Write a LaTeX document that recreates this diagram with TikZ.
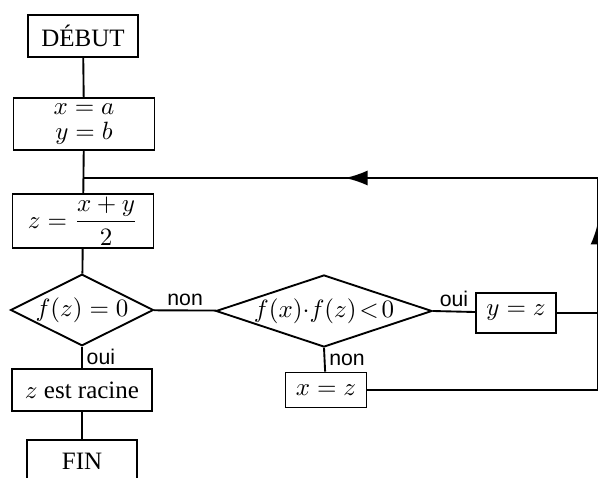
\documentclass[tikz,border=0pt]{standalone}
\usepackage{amsmath}
\usepackage{fontspec}
\setmainfont{Liberation Serif}
\newfontfamily\lblfont{Liberation Sans}
\usetikzlibrary{shapes.geometric,arrows.meta}

\tikzset{
  boite/.style={draw, line width=0.75pt, rectangle, inner sep=1pt, font=\fontsize{10}{12}\selectfont},
  test/.style={draw, line width=0.75pt, diamond, inner sep=0pt, font=\fontsize{10}{12}\selectfont},
  lbl/.style={font=\lblfont\fontsize{8.5}{10}\selectfont, inner sep=1.5pt},
  fil/.style={line width=0.75pt}
}

\begin{document}
\begin{tikzpicture}[x=0.4pt,y=-0.4pt]
			\useasboundingbox (0,0) rectangle (598,478);
			\clip (0,0) rectangle (598,478);
			% boxes
			\node[boite, minimum width=44pt, minimum height=16.8pt] (debut) at (83,36) {DÉBUT};
			\node[boite, minimum width=56.4pt, minimum height=20.8pt, align=center] (init) at (84,124) {$x=a$\\[-2pt]$y=b$};
			\node[boite, minimum width=56.4pt, minimum height=19.6pt] (milieu) at (83,221) {$z=\dfrac{x+y}{2}$};
			\node[test, minimum width=57.2pt, minimum height=28pt, aspect=2] (racine0) at (82,310) {$f(z)=0$};
			\node[test, minimum width=86.4pt, minimum height=28.8pt, aspect=3, inner sep=-1.5pt] (signe) at (324,311) {$f(x){\cdot}f(z)\!<\!0$};
			\node[boite, minimum width=32pt, minimum height=16pt] (ymaj) at (516,313) {$y=z$};
			\node[boite, minimum width=32.4pt, minimum height=14pt] (xmaj) at (326,390) {$x=z$};
			\node[boite, minimum width=56pt, minimum height=16.8pt] (racine) at (82,390) {$z$ est racine};
			\node[boite, minimum width=44pt, minimum height=16.8pt] (fin) at (82,461) {FIN};
			% points of the loop
			\coordinate (j) at (83,178);
			\coordinate (f) at (345,178);
			\coordinate (h) at (598,178);
			\coordinate (p) at (598,222);
			\coordinate (m) at (598,313);
			\coordinate (b) at (598,390);
			% main line
			\draw[fil] (debut) -- (init);
			\draw[fil] (init) -- (milieu);
			\draw[fil] (milieu) -- (racine0);
			\draw[fil] (racine0) -- node[lbl, above] {non} (signe);
			\draw[fil] (racine0.south) -- node[lbl, right] {oui} (racine);
			\draw[fil] (racine) -- (fin);
			\draw[fil] (signe.east) -- node[lbl, above] {oui} (ymaj);
			\draw[fil] (signe.south) -- node[lbl, right] {non} (xmaj);
			% loop back
			\draw[fil] (ymaj) -- (m);
			\draw[fil] (xmaj) -- (b) -- (h) -- (j);
			\draw[fil, -{Latex[length=9pt,width=6pt]}] (b) -- (p);
			\draw[fil, -{Latex[length=9pt,width=6pt]}] (h) -- (f);
		\end{tikzpicture}
\end{document}
